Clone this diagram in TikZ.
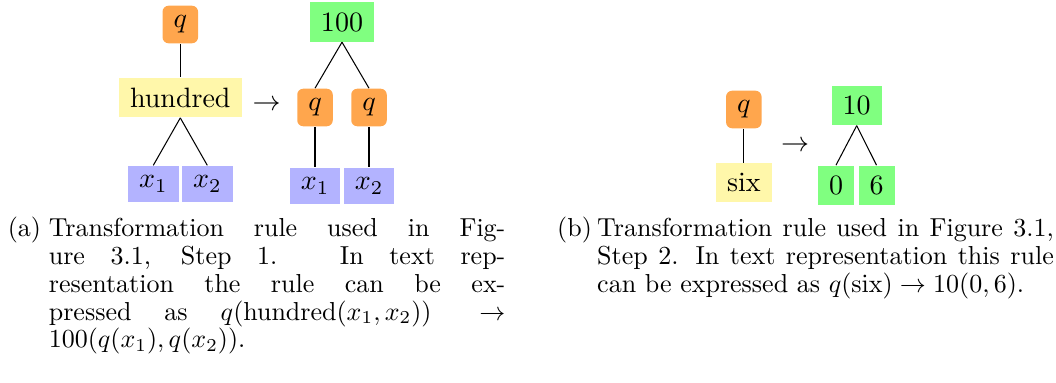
\documentclass[tikz,border=0pt]{standalone}
\usepackage{fix-cm}
\usepackage{amsmath}
\definecolor{qorange}{RGB}{255,166,77}
\definecolor{ylw}{RGB}{255,247,170}
\definecolor{blu}{RGB}{179,179,255}
\definecolor{grn}{RGB}{128,255,128}
\tikzset{
  tn/.style={font=\fontsize{10.77}{13}\selectfont, inner xsep=4.23pt, inner ysep=3.85pt},
  qn/.style={tn, fill=qorange, rounded corners=2.3pt},
  yn/.style={tn, fill=ylw},
  bn/.style={tn, fill=blu},
  gn/.style={tn, fill=grn},
  arr/.style={font=\fontsize{10.77}{13}\selectfont, inner sep=0pt},
  edge/.style={line width=0.4pt},
  captxt/.style={font=\fontsize{10}{10.65}\selectfont, anchor=base west, inner sep=0pt},
}
\newcommand{\jline}[1]{\makebox[175.6pt][s]{#1}}
\begin{document}
\begin{tikzpicture}[x=0.3846pt,y=-0.3846pt]
\useasboundingbox (0,0) rectangle (1056,383);
% ---- (a) left tree
\node[qn] (qA) at (180.3,24.5) {$q$};
\node[yn] (hund) at (180.3,97.5) {hundred};
\node[bn] (x1A) at (153.3,184) {$x_1$};
\node[bn] (x2A) at (207.3,184) {$x_2$};
\draw[edge] (qA.south) -- (hund.north);
\draw[edge] (hund.south) -- (x1A.north);
\draw[edge] (hund.south) -- (x2A.north);
\node[arr] (arrA) at (266.5,105) {$\rightarrow$};
% ---- (a) right tree
\node[gn] (h100) at (342,22) {100};
\node[qn] (q1) at (315,107.5) {$q$};
\node[qn] (q2) at (369,107.5) {$q$};
\node[bn] (x1B) at (315,186) {$x_1$};
\node[bn] (x2B) at (369,186) {$x_2$};
\draw[edge] (h100.south) -- (q1.north);
\draw[edge] (h100.south) -- (q2.north);
\draw[edge] (q1.south) -- (x1B.north);
\draw[edge] (q2.south) -- (x2B.north);
% ---- (b) left tree
\node[qn] (qB) at (743.8,109.5) {$q$};
\node[yn] (six) at (743.8,182.5) {six};
\draw[edge] (qB.south) -- (six.north);
\node[arr] (arrB) at (795,146.7) {$\rightarrow$};
% ---- (b) right tree
\node[gn] (ten) at (856.7,105.5) {10};
\node[gn] (zero) at (836,185.3) {0};
\node[gn] (sixn) at (876.5,185.3) {6};
\draw[edge] (ten.south) -- (zero.north);
\draw[edge] (ten.south) -- (sixn.north);
% ---- captions
\node[captxt] (labA) at (7.3,237) {(a)};
\node[captxt] (a1) at (48.3,237) {\jline{Transformation rule used in Fig-}};
\node[captxt] (a2) at (48.3,264.7) {\jline{ure 3.1, Step 1. In text rep-}};
\node[captxt] (a3) at (48.3,292.4) {\jline{resentation the rule can be ex-}};
\node[captxt] (a4) at (48.3,320.1) {\jline{pressed as $q(\mathrm{hundred}(x_1,x_2))\rightarrow$}};
\node[captxt] (a5) at (48.3,347.8) {$100(q(x_1),q(x_2))$.};
\node[captxt] (labB) at (556.7,237) {(b)};
\node[captxt] (b1) at (596.7,237) {\jline{Transformation rule used in Figure 3.1,}};
\node[captxt] (b2) at (596.7,264.7) {\jline{Step 2. In text representation this rule}};
\node[captxt] (b3) at (596.7,292.4) {can be expressed as $q(\mathrm{six})\rightarrow 10(0,6)$.};
\end{tikzpicture}
\end{document}
